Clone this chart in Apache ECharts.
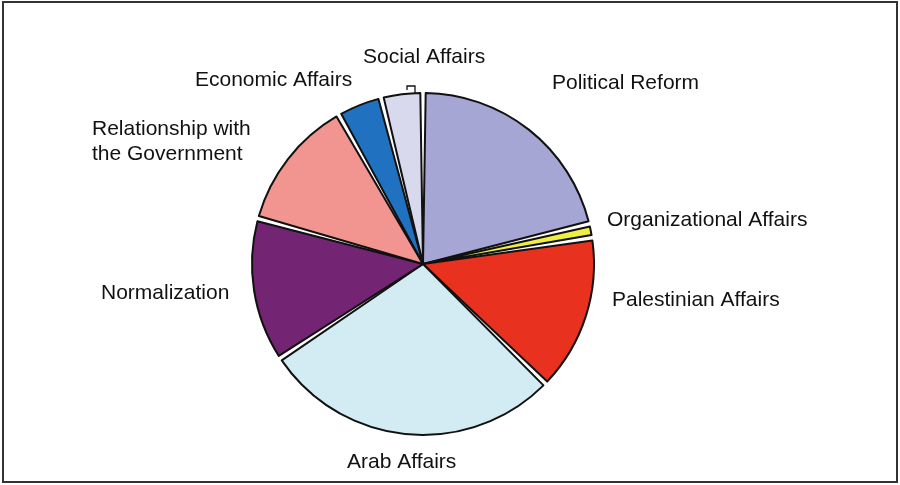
<!DOCTYPE html>
<html lang="en">
<head>
	<meta charset="UTF-8">
	<title>Topics pie</title>
	<style>
		html, body { margin: 0; padding: 0; background: #fff; }
		#main { width: 900px; height: 485px; }
	</style>
</head>
<body>
	<div id="main"></div>
	<script src="https://cdn.jsdelivr.net/npm/echarts@6/dist/echarts.min.js"></script>
	<script>
		// categories, clockwise from 12 o'clock
		var categories = ['Political Reform', 'Organizational Affairs', 'Palestinian Affairs', 'Arab Affairs',
			'Normalization', 'Relationship with\nthe Government', 'Economic Affairs', 'Social Affairs'];
		// share of each topic (%)
		var shares = [21.0, 1.3, 14.6, 28.1, 13.4, 12.4, 4.2, 3.9];
		var colors = ['#a6a6d4', '#eeee44', '#e8321f', '#d3ebf3', '#732472', '#f29591', '#2072c0', '#d9d9ee'];

		// where each label sits (left edge, vertical middle)
		var labelPos = [[552, 83], [607, 220], [612, 300], [347, 462], [101, 293], [92, 142], [195, 80], [363, 57]];

		var myChart = echarts.init(document.getElementById('main'));

		var pieData = categories.map(function (name, i) {
			return { name: name, value: shares[i], itemStyle: { color: colors[i] } };
		});

		var option = {
			animation: false,
			graphic: [{
				type: 'rect',
				shape: { x: 3, y: 2, width: 894, height: 480 },
				style: { fill: null, stroke: '#333', lineWidth: 2 }
			}, {
				// little bracket under "Social Affairs"
				type: 'polyline',
				shape: { points: [[407, 90], [407, 86], [415, 86], [415, 94]] },
				style: { fill: null, stroke: '#111', lineWidth: 1.3 }
			}],
			series: [{
				type: 'pie',
				center: [423, 264],
				radius: 171,
				startAngle: 90,
				clockwise: true,
				padAngle: 1.8,
				itemStyle: { borderColor: '#111', borderWidth: 2 },
				label: {
					show: true,
					position: 'outside',
					fontFamily: 'Liberation Sans, Arial, sans-serif',
					fontSize: 21,
					color: '#111',
					lineHeight: 25,
					align: 'left'
				},
				labelLine: { show: false },
				labelLayout: function (p) {
					var pos = labelPos[p.dataIndex];
					return { x: pos[0], y: pos[1], align: 'left', verticalAlign: 'middle' };
				},
				data: pieData
			}]
		};

		myChart.setOption(option);
	</script>
</body>
</html>
